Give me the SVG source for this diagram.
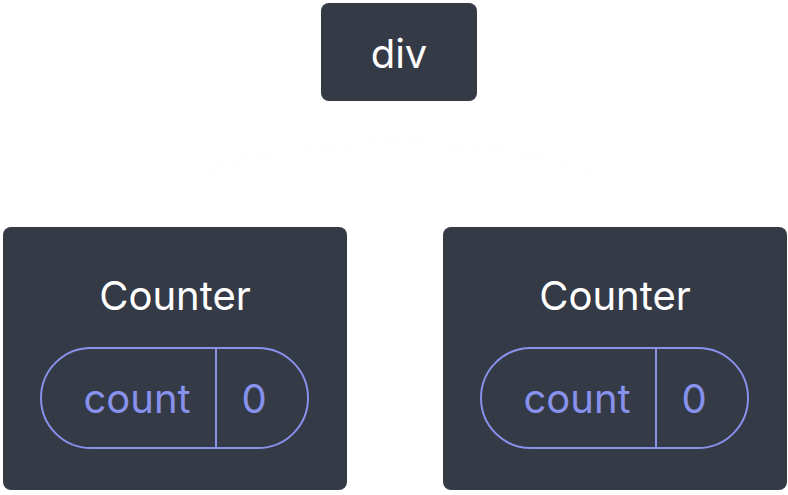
<svg xmlns="http://www.w3.org/2000/svg" width="788" height="495" viewBox="0 0 788 495">
<style>
.box{fill:#343a46}
.title{fill:#ffffff;font-family:Inter,"Noto Sans",sans-serif;font-size:40px;text-anchor:middle}
.pill{fill:none;stroke:#8891ec;stroke-width:2}
.lbl{fill:#8891ec;font-family:Inter,"Noto Sans",sans-serif;font-size:40px;text-anchor:middle}
.conn{fill:none;stroke:#f4f4f6;stroke-width:1;stroke-dasharray:1 4}
</style>
<rect width="788" height="495" fill="#ffffff"/>
<g id="connectors">
<path class="conn" d="M178 196 Q 200 150 398 142"/>
<path class="conn" d="M398 142 Q 600 150 620 197"/>
</g>
<g id="div">
<rect class="box" x="321" y="3" width="156" height="98" rx="8"/>
<text class="title" x="399" y="68">div</text>
</g>
<g id="counter1">
<rect class="box" x="3" y="227" width="344" height="263" rx="8"/>
<text class="title" x="175" y="310">Counter</text>
<rect class="pill" x="41" y="348" width="267" height="100" rx="50"/>
<line class="pill" x1="216" y1="348" x2="216" y2="448"/>
<text class="lbl" x="137" y="413">count</text>
<text class="lbl" x="254" y="413">0</text>
</g>
<g id="counter2">
<rect class="box" x="443" y="227" width="344" height="263" rx="8"/>
<text class="title" x="615" y="310">Counter</text>
<rect class="pill" x="481" y="348" width="267" height="100" rx="50"/>
<line class="pill" x1="656" y1="348" x2="656" y2="448"/>
<text class="lbl" x="577" y="413">count</text>
<text class="lbl" x="694" y="413">0</text>
</g>
</svg>
